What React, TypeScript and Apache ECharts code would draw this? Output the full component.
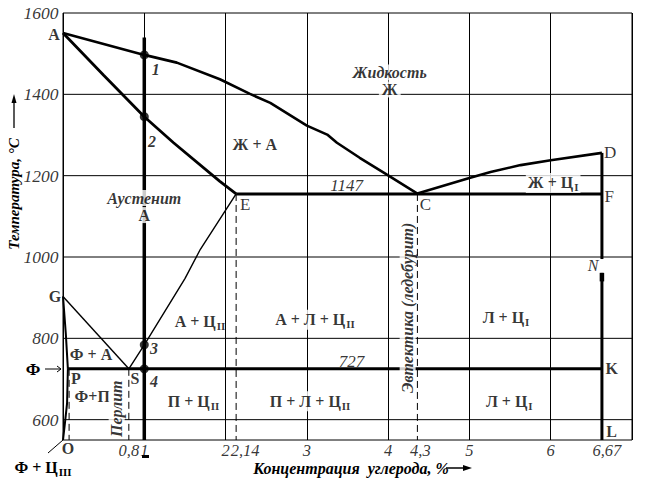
import React, { useEffect, useRef } from "react";
import * as echarts from "echarts";

// ---- axes ----
const X_MIN = 0;
const X_MAX = 7;
const Y_MIN = 550;
const Y_MAX = 1600;
const yGridValues = [600, 800, 1000, 1200, 1400];
const yTickValues = [600, 800, 1000, 1200, 1400, 1600];
const yTickLabels = ["600", "800", "1000", "1200", "1400", "1600"];
const xTickValues = [0.81, 1, 2, 2.13, 3, 4, 4.36, 5, 6, 6.63];
const xTickLabels = ["0,8", "1", "2", "2,14", "3", "4", "4,3", "5", "6", "6,67"];

// ---- phase boundaries [C %, T °C] ----
const liquidusAC = [[0, 1551], [1, 1497], [1.4, 1478], [1.93, 1437], [2.3, 1401], [2.55, 1379], [3.0, 1323], [3.25, 1301], [3.37, 1281], [3.65, 1244], [3.98, 1203], [4.36, 1156]];
const liquidusCD = [[4.36, 1156], [5.01, 1195], [5.26, 1209], [5.63, 1226], [6.0, 1238], [6.63, 1256]];
const solidusAE = [[0, 1551], [0.5, 1447], [1, 1345], [1.36, 1281], [1.93, 1186], [2.13, 1155]];
const eutecticECF = [[2.13, 1155], [6.63, 1155]];
const eutectoidPSK = [[0.06, 725], [6.63, 725]];
const lineGS = [[0, 903], [0.81, 725]];
const lineSE = [[0.81, 725], [1, 784], [1.5, 947], [1.69, 1019], [2.13, 1155]];
const lineGP = [[0, 903], [0.035, 810], [0.06, 725]];
const linePQ = [[0.06, 725], [0.05, 640], [0.02, 585], [0, 550]];
const cementiteUpper = [[6.63, 1256], [6.63, 995]];
const cementiteLower = [[6.63, 961], [6.63, 550]];
const cementiteStub = [[6.63, 961], [6.63, 940]];
const alloyLine = [[1, 1540], [1, 550]];
const dashedE = [[2.13, 1155], [2.13, 550]];
const dashedC = [[4.36, 1155], [4.36, 550]];
const dashedS = [[0.81, 725], [0.81, 550]];
const dashedQ = [[0.075, 725], [0.075, 550]];

// ---- alloy 1 % C cooling points ----
const alloyPoints = [[1, 1497], [1, 1345], [1, 784], [1, 725]];
const alloyPointLabels = ["1", "2", "3", "4"];
const alloyPointLabelPos = [[1.14, 1460], [1.095, 1283], [1.12, 775], [1.12, 693]];

// ---- phase-region labels [C, T, main, subscript] ----
const phaseLabels: [number, number, string, string][] = [
  [2.36, 1277, "Ж + А", ""],
  [1.685, 842, "А + Ц", "II"],
  [3.1, 846, "А + Л + Ц", "II"],
  [5.45, 851, "Л + Ц", "I"],
  [6.03, 1182, "Ж + Ц", "I"],
  [0.345, 760, "Ф + А", ""],
  [0.36, 658, "Ф+П", ""],
  [1.605, 645, "П + Ц", "II"],
  [3.04, 645, "П + Л + Ц", "II"],
  [5.49, 645, "Л + Ц", "I"],
];

// ---- point letters [letter, C, T] ----
const plainLetters: [string, number, number][] = [
  ["E", 2.24, 1130],
  ["C", 4.46, 1130],
  ["D", 6.73, 1258],
  ["F", 6.72, 1150],
];
const boldLetters: [string, number, number][] = [
  ["A", -0.11, 1548],
  ["G", -0.1, 902],
  ["P", 0.16, 702],
  ["S", 0.885, 702],
  ["K", 6.75, 725],
  ["L", 6.75, 571],
  ["O", 0.06, 530],
];
const italicLetters: [string, number, number][] = [["N", 6.52, 980]];

// ---- other texts ----
const italicNotes: [string, number, number][] = [
  ["1147", 3.49, 1177],
  ["727", 3.55, 742],
];
// [italic title, bold letter, C, T of block centre]
const regionTitles: [string, string, number, number][] = [
  ["Жидкость", "Ж", 4.02, 1433],
  ["Аустенит", "А", 1.0, 1124],
];
const verticalNotes: [string, number, number][] = [
  ["Эвтектика (ледебурит)", 4.24, 875],
  ["Перлит", 0.66, 627],
];

const SERIF = '"Liberation Serif", "Times New Roman", serif';

function lineSeries(data: number[][], width: number, dashed = false, z = 3) {
  return {
    type: "line",
    data,
    symbol: "none",
    silent: true,
    clip: false,
    z,
    lineStyle: { color: "#000", width, type: dashed ? [7, 4] : "solid", cap: "butt" },
  };
}

function textSeries(items: any[], label: any, z = 10) {
  return {
    type: "scatter",
    data: items,
    symbolSize: 1,
    clip: false,
    silent: true,
    z,
    itemStyle: { color: "rgba(0,0,0,0)" },
    label: { show: true, position: "inside", color: "#000", fontFamily: SERIF, ...label },
  };
}

const whiteBgPhase = new Set(["А + Л + Ц", "П + Л + Ц", "Ж + Ц"]);
const xTickOffset: Record<string, number> = { "2,14": 9, "4,3": 3, "6,67": 5 };

export default function App() {
  const ref = useRef<HTMLDivElement>(null);
  useEffect(() => {
    if (!ref.current) return;
    const chart = echarts.init(ref.current, null, { renderer: "svg" });

    const series: any[] = [];
    yGridValues.forEach((v) => series.push(lineSeries([[X_MIN, v], [X_MAX, v]], 1, false, 1)));
    series.push(lineSeries(liquidusAC, 2.6));
    series.push(lineSeries(liquidusCD, 2.6));
    series.push(lineSeries(solidusAE, 2.8));
    series.push(lineSeries(eutecticECF, 3));
    series.push(lineSeries(eutectoidPSK, 3));
    series.push(lineSeries(lineGS, 1.4));
    series.push(lineSeries(lineSE, 1.4));
    series.push(lineSeries(lineGP, 2));
    series.push(lineSeries(linePQ, 2));
    series.push(lineSeries(cementiteUpper, 3));
    series.push(lineSeries(cementiteLower, 3));
    series.push(lineSeries(cementiteStub, 4.5));
    series.push(lineSeries(alloyLine, 3.5));
    series.push(lineSeries(dashedE, 1, true));
    series.push(lineSeries(dashedC, 1, true));
    series.push(lineSeries(dashedS, 1, true));
    series.push(lineSeries(dashedQ, 1, true));

    // dots
    series.push({
      type: "scatter",
      data: alloyPoints,
      symbolSize: 9,
      silent: true,
      z: 6,
      itemStyle: { color: "#000" },
    });

    // alloy point numbers
    series.push(
      textSeries(
        alloyPointLabelPos.map((p, i) => ({ value: p, label: { formatter: alloyPointLabels[i] } })),
        { fontSize: 16, fontStyle: "italic", fontWeight: "bold" }
      )
    );

    // phase labels
    series.push(
      textSeries(
        phaseLabels.map(([x, y, m, s]) => ({
          value: [x, y],
          label: {
            formatter: s ? `{m|${m}}{s|${s}}` : `{m|${m}}`,
            backgroundColor: whiteBgPhase.has(m) ? "#fff" : "transparent",
          },
        })),
        {
          padding: [0, 2],
          rich: {
            m: { fontFamily: SERIF, fontSize: 16, fontWeight: "bold", color: "#000" },
            s: { fontFamily: SERIF, fontSize: 11, fontWeight: "bold", color: "#000", padding: [9, 0, 0, 1] },
          },
        },
        11
      )
    );

    // letters
    series.push(
      textSeries(
        plainLetters.map(([t, x, y]) => ({ value: [x, y], label: { formatter: t } })),
        { fontSize: 17 }
      )
    );
    series.push(
      textSeries(
        boldLetters.map(([t, x, y]) => ({ value: [x, y], label: { formatter: t } })),
        { fontSize: 16, fontWeight: "bold" }
      )
    );
    series.push(
      textSeries(
        italicLetters.map(([t, x, y]) => ({ value: [x, y], label: { formatter: t } })),
        { fontSize: 16, fontStyle: "italic" }
      )
    );
    series.push(
      textSeries(
        italicNotes.map(([t, x, y]) => ({ value: [x, y], label: { formatter: t } })),
        { fontSize: 17, fontStyle: "italic" }
      )
    );
    series.push(
      textSeries(
        regionTitles.map(([t, l, x, y]) => ({
          value: [x, y],
          label: { formatter: `{i|${t}}\n{b|${l}}` },
        })),
        {
          rich: {
            i: { fontFamily: SERIF, fontSize: 16, fontStyle: "italic", fontWeight: "bold", color: "#000", lineHeight: 17, align: "center", backgroundColor: "#fff", padding: [0, 1] },
            b: { fontFamily: SERIF, fontSize: 16, fontWeight: "bold", color: "#000", lineHeight: 17, align: "center", backgroundColor: "#fff", padding: [0, 3] },
          },
        },
        12
      )
    );
    series.push(
      textSeries(
        verticalNotes.map(([t, x, y]) => ({
          value: [x, y],
          label: { formatter: t },
        })),
        { fontSize: 16, fontStyle: "italic", fontWeight: "bold", rotate: 90, backgroundColor: "#fff", padding: [0, 0] },
        12
      )
    );

    // tick labels
    series.push(
      textSeries(
        yTickValues.map((v, i) => ({ value: [X_MIN, v], label: { formatter: yTickLabels[i] } })),
        { position: "left", distance: 4, fontSize: 17.5, fontStyle: "italic" }
      )
    );
    series.push(
      textSeries(
        xTickValues.map((v, i) => ({
          value: [v, Y_MIN],
          label: { formatter: xTickLabels[i], offset: [xTickOffset[xTickLabels[i]] || 0, 0] },
        })),
        { position: "bottom", distance: 1, fontSize: 16.5, fontStyle: "italic" }
      )
    );

    const option: any = {
      animation: false,
      backgroundColor: "#fff",
      grid: { left: 63, top: 13, width: 569, height: 427, show: true, borderColor: "#000", borderWidth: 1 },
      xAxis: {
        type: "value",
        min: X_MIN,
        max: X_MAX,
        interval: 1,
        axisLine: { show: false },
        axisTick: { show: false },
        axisLabel: { show: false },
        splitLine: { show: true, lineStyle: { color: "#000", width: 1 } },
      },
      yAxis: {
        type: "value",
        min: Y_MIN,
        max: Y_MAX,
        axisLine: { show: false },
        axisTick: { show: false },
        axisLabel: { show: false },
        splitLine: { show: false },
      },
      series,
      graphic: [
        {
          type: "text",
          x: 14,
          y: 194,
          rotation: Math.PI / 2,
          style: {
            text: "Температура, °С",
            fontFamily: SERIF,
            fontSize: 15,
            fontStyle: "italic",
            fontWeight: "bold",
            fill: "#000",
            align: "center",
            verticalAlign: "middle",
          },
        },
        { type: "line", shape: { x1: 14, y1: 128, x2: 14, y2: 101 }, style: { stroke: "#000", lineWidth: 1.3 } },
        { type: "polygon", shape: { points: [[14, 94], [11.5, 103], [16.5, 103]] }, style: { fill: "#000" } },
        {
          type: "text",
          x: 351,
          y: 468,
          style: {
            text: "Концентрация  углерода, %",
            fontFamily: SERIF,
            fontSize: 16,
            fontStyle: "italic",
            fontWeight: "bold",
            fill: "#000",
            align: "center",
            verticalAlign: "middle",
          },
        },
        { type: "line", shape: { x1: 446, y1: 468, x2: 465, y2: 468 }, style: { stroke: "#000", lineWidth: 1.5 } },
        { type: "polygon", shape: { points: [[472, 468], [463, 465], [463, 471]] }, style: { fill: "#000" } },
        {
          type: "text",
          x: 33,
          y: 369,
          style: { text: "Ф", fontFamily: SERIF, fontSize: 17, fontWeight: "bold", fill: "#000", align: "center", verticalAlign: "middle" },
        },
        { type: "line", shape: { x1: 45, y1: 369, x2: 61, y2: 369 }, style: { stroke: "#000", lineWidth: 1 } },
        { type: "polyline", shape: { points: [[57, 366], [61, 369], [57, 372]] }, style: { stroke: "#000", lineWidth: 1, fill: "none" } },
        {
          type: "text",
          x: 43,
          y: 467,
          style: {
            text: "{m|Ф + Ц}{s|III}",
            align: "center",
            verticalAlign: "middle",
            rich: {
              m: { fontFamily: SERIF, fontSize: 16, fontWeight: "bold", fill: "#000" },
              s: { fontFamily: SERIF, fontSize: 11, fontWeight: "bold", fill: "#000", padding: [9, 0, 0, 1] },
            },
          },
        },
        { type: "line", shape: { x1: 48, y1: 453, x2: 63, y2: 440 }, style: { stroke: "#000", lineWidth: 1 } },
        { type: "rect", shape: { x: 142, y: 455, width: 7, height: 3 }, style: { fill: "#000" } },
      ],
    };
    chart.setOption(option);
    return () => chart.dispose();
  }, []);

  return <div ref={ref} style={{ position: "fixed", left: 0, top: 0, width: 657, height: 502, background: "#fff" }} />;
}
